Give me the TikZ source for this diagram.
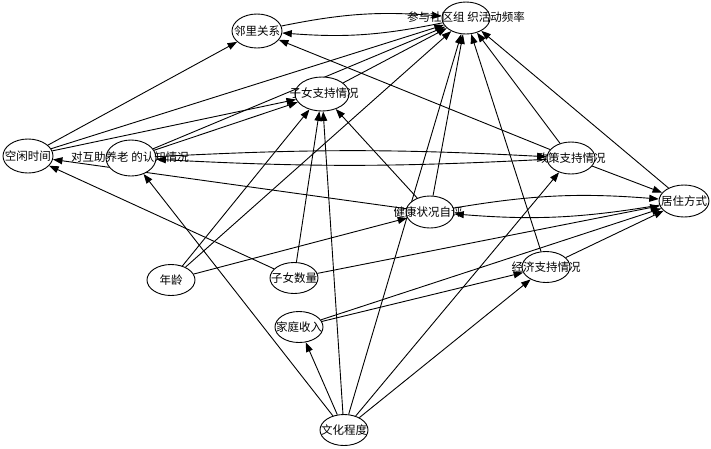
\documentclass[tikz,border=0pt]{standalone}
\usepackage{fontspec}
\setmainfont{Noto Sans CJK SC}
\usetikzlibrary{shapes.geometric,arrows.meta}
\pgfdeclarelayer{background}
\pgfsetlayers{background,main}
\begin{document}
\begin{tikzpicture}[x=1pt,y=1pt,
  ell/.style={ellipse,draw,line width=0.9pt,fill=white,inner sep=0pt,minimum width=48pt,minimum height=31pt},
  lab/.style={font=\fontsize{11.5}{13}\selectfont,inner sep=0pt},
  edge/.style={line width=0.9pt,-{Triangle[length=9.5pt,width=7pt]}}]
\useasboundingbox (0,0) rectangle (711,-448);
% ellipses
\node[ell,minimum width=50pt,minimum height=34pt] (A) at (257,-31) {};
\node[ell,minimum width=48pt,minimum height=32pt] (Y) at (466,-18) {};
\node[ell,minimum width=54pt,minimum height=34pt] (C) at (322,-94) {};
\node[ell,minimum width=50pt,minimum height=34pt] (D) at (28,-156) {};
\node[ell,minimum width=50pt,minimum height=36pt] (E) at (131,-158) {};
\node[ell,minimum width=48pt,minimum height=32pt] (F) at (571,-158) {};
\node[ell,minimum width=50pt,minimum height=32pt] (G) at (684,-201) {};
\node[ell,minimum width=48pt,minimum height=32pt] (H) at (430,-212) {};
\node[ell] (I) at (171,-280) {};
\node[ell] (J) at (294,-278) {};
\node[ell] (K) at (546,-267) {};
\node[ell] (L) at (299,-327) {};
\node[ell] (M) at (344,-430) {};
% edges
\begin{pgfonlayer}{background}
\draw[edge] (A) to[bend left=8] (Y);
\draw[edge] (Y) to[bend left=8] (A);
\draw[edge] (E) to[bend left=3] (F);
\draw[edge] (F) to[bend left=3] (E);
\draw[edge] (H) to[bend left=7] (G);
\draw[edge] (G) to[bend left=7] (H);
\draw[edge] (D) -- (A);
\draw[edge] (D) -- (Y);
\draw[edge] (D) -- (C);
\draw[edge] (E) -- (C);
\draw[edge] (E) -- (Y);
\draw[edge] (C) -- (Y);
\draw[edge] (F) -- (A);
\draw[edge] (F) -- (Y);
\draw[edge] (G) -- (Y);
\draw[edge] (F) -- (G);
\draw[edge] (K) -- (Y);
\draw[edge] (K) -- (G);
\draw[edge] (H) -- (Y);
\draw[edge] (H) -- (C);
\draw[edge] (H) -- (D);
\draw[edge] (I) -- (C);
\draw[edge] (I) -- (Y);
\draw[edge] (I) -- (H);
\draw[edge] (J) -- (C);
\draw[edge] (J) -- (D);
\draw[edge] (J) -- (G);
\draw[edge] (L) -- (K);
\draw[edge] (L) -- (G);
\draw[edge] (M) -- (E);
\draw[edge] (M) -- (L);
\draw[edge] (M) -- (C);
\draw[edge] (M) -- (Y);
\draw[edge] (M) -- (F);
\draw[edge] (M) -- (K);
\end{pgfonlayer}
% labels
\node[lab] (At) at (257,-31) {邻里关系};
\node[lab] (Yt) at (466,-17) {参与社区组 织活动频率};
\node[lab] (Ct) at (324,-93) {子女支持情况};
\node[lab] (Dt) at (28,-156) {空闲时间};
\node[lab] (Et) at (130,-157) {对互助养老 的认知情况};
\node[lab] (Ft) at (571,-158) {政策支持情况};
\node[lab] (Gt) at (684,-201) {居住方式};
\node[lab] (Ht) at (428,-212) {健康状况自评};
\node[lab] (It) at (171,-280) {年龄};
\node[lab] (Jt) at (294,-278) {子女数量};
\node[lab] (Kt) at (546,-267) {经济支持情况};
\node[lab] (Lt) at (299,-327) {家庭收入};
\node[lab] (Mt) at (344,-430) {文化程度};
\end{tikzpicture}
\end{document}
